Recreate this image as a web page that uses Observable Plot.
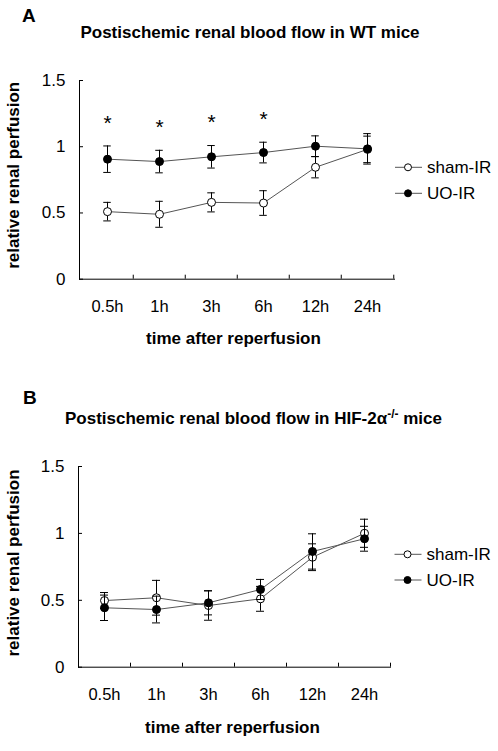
<!DOCTYPE html>
<html>
<head>
<meta charset="utf-8">
<script src="https://cdn.jsdelivr.net/npm/d3@7"></script>
<script src="https://cdn.jsdelivr.net/npm/@observablehq/plot@0.6"></script>
<style>
  html, body { margin: 0; padding: 0; background: #fff; }
  svg { display: block; }
</style>
</head>
<body>
<div id="chart"></div>
<script>
// ---- data ----
const categories = ["0.5h", "1h", "3h", "6h", "12h", "24h"];
const seriesNames = ["sham-IR", "UO-IR"];
const yTicks = [0, 0.5, 1, 1.5];

// Panel A: WT mice
const aShamMean = [0.51, 0.49, 0.58, 0.575, 0.845, 0.98];
const aShamErr  = [0.07, 0.098, 0.072, 0.093, 0.08, 0.10];
const aUoMean   = [0.906, 0.888, 0.924, 0.956, 1.004, 0.984];
const aUoErr    = [0.10, 0.085, 0.085, 0.078, 0.078, 0.115];
const aSignif   = ["*", "*", "*", "*", "", ""];

// Panel B: HIF-2α-/- mice
const bShamMean = [0.498, 0.519, 0.461, 0.511, 0.822, 1.001];
const bShamErr  = [0.06, 0.13, 0.11, 0.093, 0.10, 0.105];
const bUoMean   = [0.444, 0.431, 0.481, 0.581, 0.865, 0.96];
const bUoErr    = [0.095, 0.10, 0.09, 0.075, 0.132, 0.093];
const bSignif   = ["", "", "", "", "", ""];

const yLabel = "relative renal perfusion";
const xLabel = "time after reperfusion";

// ---- helpers ----
const FONT = "Liberation Sans, Arial, Helvetica, sans-serif";
const W = 498;

function rows(means, errs, series, sig) {
  return categories.map((c, i) => ({cat: c, mean: means[i], err: errs[i], series, sig: sig ? sig[i] : ""}));
}

function panel(cfg) {
  const {height, mt, mb, ml, mr, sham, uo} = cfg;
  const fw = W - ml - mr, fh = height - mt - mb, bw = fw / categories.length;
  const seriesMarks = (data, fill) => [
    Plot.ruleX(data, {x: "cat", y1: d => d.mean - d.err, y2: d => d.mean + d.err, stroke: "#000", strokeWidth: 1}),
    Plot.tickY(data, {x: "cat", y: d => d.mean + d.err, stroke: "#000", insetLeft: bw / 2 - 4, insetRight: bw / 2 - 4}),
    Plot.tickY(data, {x: "cat", y: d => d.mean - d.err, stroke: "#000", insetLeft: bw / 2 - 4, insetRight: bw / 2 - 4}),
    Plot.line(data, {x: "cat", y: "mean", stroke: "#555", strokeWidth: 1}),
    Plot.dot(data, {x: "cat", y: "mean", r: 4, fill, stroke: "#000", strokeWidth: 1})
  ];
  const svg = Plot.plot({
    width: W, height,
    marginTop: mt, marginBottom: mb, marginLeft: ml, marginRight: mr,
    style: {fontFamily: FONT, background: "#fff", color: "#000", overflow: "visible"},
    x: {type: "band", domain: categories, padding: 0},
    y: {domain: [0, 1.5]},
    marks: [
      Plot.frame({anchor: "left", stroke: "#000"}),
      Plot.frame({anchor: "bottom", stroke: "#000"}),
      Plot.tickY(yTicks, {y: d => d, insetRight: fw - 4, stroke: "#000"}),
      Plot.tickX(categories.slice(1), {x: d => d, dx: -bw / 2, insetTop: fh - 4, stroke: "#000"}),
      Plot.tickX(categories.slice(-1), {x: d => d, dx: bw / 2, insetTop: fh - 4, stroke: "#000"}),
      ...seriesMarks(sham, "#fff"),
      ...seriesMarks(uo, "#000"),
      Plot.text(uo.filter(d => d.sig), {x: "cat", y: d => d.mean + d.err, text: "sig", dy: -23, fontSize: 21, fill: "#000"}),
      Plot.axisX({tickSize: 0, tickPadding: 21, fontSize: 16.5, label: null}),
      Plot.axisY({ticks: yTicks, tickSize: 0, tickPadding: 14, fontSize: 17, label: null, tickFormat: d => String(d)})
    ]
  });

  const s = d3.select(svg);
  // panel letter
  s.append("text").attr("x", cfg.letter.x).attr("y", cfg.letter.y).attr("text-anchor", "start")
    .attr("font-family", FONT).attr("font-size", 19).attr("font-weight", "bold").attr("fill", "#000")
    .text(cfg.letter.text);
  // title
  const t = s.append("text").attr("x", cfg.title.x).attr("y", cfg.title.y).attr("text-anchor", "middle")
    .attr("font-family", FONT).attr("font-size", 17).attr("font-weight", "bold").attr("fill", "#000");
  t.append("tspan").text(cfg.title.text);
  if (cfg.title.sup) {
    t.append("tspan").attr("dy", -6).attr("font-size", 12).text(cfg.title.sup);
    t.append("tspan").attr("dy", 6).text(cfg.title.after);
  }
  // y label
  s.append("text").attr("transform", `translate(${cfg.ylab.x},${cfg.ylab.y}) rotate(-90)`)
    .attr("text-anchor", "middle").attr("dy", "0.35em")
    .attr("font-family", FONT).attr("font-size", 17).attr("font-weight", "bold").attr("fill", "#000")
    .text(yLabel);
  // x label
  s.append("text").attr("x", cfg.xlab.x).attr("y", cfg.xlab.y).attr("text-anchor", "middle").attr("dy", "0.35em")
    .attr("font-family", FONT).attr("font-size", 17).attr("font-weight", "bold").attr("fill", "#000")
    .text(xLabel);
  // legend
  const fills = ["#fff", "#000"];
  seriesNames.forEach((name, i) => {
    const y = cfg.legend.y0 + i * cfg.legend.dy;
    const g = s.append("g");
    g.append("line").attr("x1", cfg.legend.x).attr("x2", cfg.legend.x + 27).attr("y1", y).attr("y2", y)
      .attr("stroke", "#555").attr("stroke-width", 1);
    g.append("circle").attr("cx", cfg.legend.x + 13).attr("cy", y).attr("r", 3.5)
      .attr("fill", fills[i]).attr("stroke", "#000");
    g.append("text").attr("x", cfg.legend.x + 32).attr("y", y).attr("dy", "0.35em").attr("text-anchor", "start")
      .attr("font-family", FONT).attr("font-size", 17).attr("fill", "#000").text(name);
  });
  return svg;
}

const root = document.getElementById("chart");
root.appendChild(panel({
  height: 370, mt: 80, mb: 91.3, ml: 79, mr: 104,
  sham: rows(aShamMean, aShamErr, "sham-IR"),
  uo: rows(aUoMean, aUoErr, "UO-IR", aSignif),
  letter: {text: "A", x: 22, y: 22},
  title: {text: "Postischemic renal blood flow in WT mice", x: 250, y: 37.7},
  ylab: {x: 12.7, y: 175.3},
  xlab: {x: 233.5, y: 338.5},
  legend: {x: 395, y0: 167.3, dy: 26}
}));
root.appendChild(panel({
  height: 381, mt: 96, mb: 84.3, ml: 78, mr: 108,
  sham: rows(bShamMean, bShamErr, "sham-IR"),
  uo: rows(bUoMean, bUoErr, "UO-IR", bSignif),
  letter: {text: "B", x: 23, y: 33.5},
  title: {text: "Postischemic renal blood flow in HIF-2α", sup: "-/-", after: " mice", x: 253.5, y: 54.3},
  ylab: {x: 12.7, y: 193},
  xlab: {x: 232.5, y: 356.7},
  legend: {x: 394.5, y0: 184.3, dy: 25.7}
}));
</script>
</body>
</html>
